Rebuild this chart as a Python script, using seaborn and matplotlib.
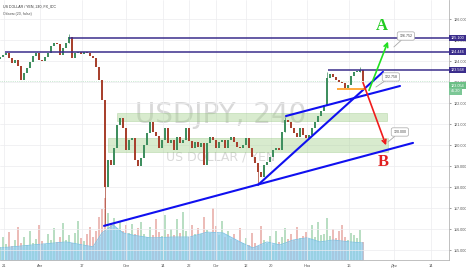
import numpy as np
import pandas as pd
import matplotlib
matplotlib.use("Agg")
import matplotlib.pyplot as plt
import matplotlib.transforms as mtransforms
from matplotlib.patches import Rectangle
import seaborn as sns

# ---------------- data ----------------
closes = [124.19, 124.29, 124.38, 124.14, 123.90, 124.05, 123.76, 123.10, 123.43, 123.67,
          123.95, 124.24, 124.38, 124.05, 124.00, 124.19, 124.38, 124.71, 124.86, 124.81,
          124.29, 124.62, 124.86, 125.14, 124.14, 124.38, 124.43, 124.33, 124.43, 124.38,
          124.24, 124.14, 123.71, 123.10, 122.14, 118.00, 119.29, 119.05, 119.86, 120.95,
          121.29, 120.81, 119.76, 120.24, 120.33, 119.29, 119.00, 119.38, 120.00, 120.57,
          121.10, 120.62, 120.43, 119.86, 120.24, 120.81, 120.10, 120.24, 119.76, 120.38,
          120.10, 120.24, 120.81, 120.19, 119.86, 120.14, 119.90, 120.10, 119.05, 120.10,
          120.38, 120.24, 119.86, 120.14, 120.24, 119.86, 120.24, 120.38, 120.14, 119.90,
          119.86, 120.00, 120.33, 119.86, 119.43, 119.14, 118.71, 118.48, 119.05, 119.19,
          119.43, 119.76, 119.86, 119.76, 120.62, 121.19, 121.10, 120.81, 120.57, 120.38,
          120.81, 120.48, 120.33, 120.48, 120.81, 121.10, 121.38, 121.62, 121.90, 123.19,
          123.38, 123.24, 123.10, 123.00, 122.95, 122.71, 122.86, 123.29, 123.48, 123.48,
          123.57, 123.05]
first_open = 124.10
wick_idx = [23, 35, 86, 95, 109, 120]
wick_low = [124.86, 116.15, 118.19, 120.62, 121.90, 123.48]
wick_high = [125.30, 122.14, 119.14, 121.33, 123.48, 123.70]

volumes = [35, 60, 42, 75, 38, 52, 88, 46, 62, 40, 78, 44, 57, 92, 50, 42, 68, 54, 84, 47,
           60, 98, 52, 66, 46, 72, 104, 58, 50, 70, 88, 62, 78, 115,
           135, 165, 125, 98, 112, 86, 104, 78, 92, 72,
           96, 68, 84, 102, 70, 62, 88, 66, 110, 74,
           64, 120, 70, 82, 66, 108, 72, 128, 76, 60,
           94, 70, 86, 68, 115, 80, 72, 138, 90, 66,
           104, 62, 78, 56, 70, 50, 86, 44, 58, 40,
           72, 46, 38, 90, 52, 44, 64, 40, 78, 48,
           60, 84, 56, 70, 52, 88, 58, 64, 74, 56,
           92, 60, 101, 66, 70, 112, 64, 82, 58, 76,
           93, 62, 54, 72, 66, 58, 80, 48]
ma_idx = [0, 11, 22, 31, 34, 37.7, 41, 44.3, 50, 52.3, 57.7, 63.3, 69, 74.3, 80, 84.3,
          89, 93.3, 97.7, 102.3, 106.7, 111, 116.7, 121]
ma_vals = [32, 40, 48, 35, 72, 93, 72, 66, 59, 59, 61, 61, 74, 72, 48, 32,
           48, 40, 53, 59, 48, 53, 48, 45.2]

x_tick_pos = [1.3, 13.3, 27.3, 42, 54.3, 63, 72, 82, 90.3, 102.3, 116.3, 131.3, 143.7]
x_tick_lab = ["21", "Авг", "17", "Сен", "14", "22", "Окт", "12", "20", "Ноя", "16", "Дек", "14"]
y_ticks = [115, 116, 117, 118, 119, 120, 121, 122, 123, 124, 125, 126]

# horizontal levels: (price, start index)
levels = [125.100, 124.446, 123.568]
level_start = [23, 1.7, 109.3]
# support zones: (x0, x1, p0, p1)
zone_x0 = [39, 36]
zone_x1 = [129, 129.33]
zone_lo = [121.14, 119.67]
zone_hi = [121.52, 120.33]
# trend lines
trend_x = [(34.67, 137.67), (86.0, 127.67), (95.33, 133.33)]
trend_y = [(116.15, 120.10), (118.10, 123.48), (121.38, 122.81)]
orange_x = (112.3, 121.7)
orange_y = 122.67
# arrows
arrow_a = ((122.67, 122.48), (129.67, 125.05))
arrow_b = ((120.67, 123.10), (129.0, 119.86))
# callouts
callout_text = ["126.752", "122.758", "120.000"]
callout_box = [(135.3, 125.19), (130.3, 123.24), (133.3, 120.62)]
callout_ptr = [(131.3, 124.67), (125.3, 122.76), (129.3, 120.14)]
last_price = 123.054
vol_ma_last = "45.20"

# ---------------- figure ----------------
sns.set_theme(style="white")
plt.rcParams['font.family'] = ['Liberation Sans', 'DejaVu Sans']

W, H = 466, 275
fig = plt.figure(figsize=(W / 100, H / 100), dpi=100)
rect = [0, 15 / H, 449 / W, 260 / H]
ax = fig.add_axes(rect)
axv = ax.twinx()
ax.set_zorder(axv.get_zorder() + 1)
ax.patch.set_visible(False)
axv.patch.set_facecolor("white")

XMAX = 449 / 3.0
ax.set_xlim(0, XMAX)
ax.set_ylim(114.524, 126.905)
axv.set_ylim(0, 690)

# volume
opens = [first_open] + closes[:-1]
idx = np.arange(len(closes))
up = np.array(closes) >= np.array(opens)
vcol = np.where(up, "#b9dec3", "#ecbcb8")
axv.bar(idx, volumes, width=0.6, color=vcol, linewidth=0, zorder=1)
ma_df = pd.DataFrame({"i": ma_idx, "v": ma_vals})
axv.fill_between(ma_df["i"], 0, ma_df["v"], color="#8fcdee", alpha=0.75, linewidth=0, zorder=2)
sns.lineplot(data=ma_df, x="i", y="v", ax=axv, color="#7cc2e6", linewidth=0.6, zorder=3)
axv.set_yticks([])
axv.set_ylabel("")
for s in axv.spines.values():
    s.set_visible(False)

# grid
ax.set_yticks(y_ticks)
ax.set_yticklabels([f"{v:.3f}" for v in y_ticks])
ax.set_xticks(x_tick_pos)
ax.set_xticklabels(x_tick_lab)
ax.grid(True, color="#ececef", linewidth=0.5, zorder=0)
ax.yaxis.tick_right()
ax.tick_params(axis="y", labelsize=2.7, colors="#555555", length=1.5, width=0.4, pad=1.5)
ax.tick_params(axis="x", labelsize=2.9, colors="#555555", length=0, pad=3)
ax.set_xlabel("")
ax.set_ylabel("")
for k in ["top", "left"]:
    ax.spines[k].set_visible(False)
for k in ["bottom", "right"]:
    ax.spines[k].set_color("#b5b5b5")
    ax.spines[k].set_linewidth(0.6)

# watermark
ax.text(73.7, 121.05, "USDJPY, 240", fontsize=20, color="#d9d9d9", ha="center",
        va="baseline", family="DejaVu Sans", zorder=0.5)
ax.text(73.7, 119.24, "US DOLLAR / YEN", fontsize=9, color="#d9d9d9", ha="center",
        va="baseline", family="DejaVu Sans", zorder=0.5)

# zones
for x0, x1, lo, hi in zip(zone_x0, zone_x1, zone_lo, zone_hi):
    ax.add_patch(Rectangle((x0, lo), x1 - x0, hi - lo, facecolor="#a9d394", alpha=0.45,
                           edgecolor="#8dbf79", linewidth=0.5, zorder=1))

# candles
for i, (o, c) in enumerate(zip(opens, closes)):
    col = "#3f8f5f" if c >= o else "#a8412e"
    lo, hi = min(o, c), max(o, c)
    if i in wick_idx:
        k = wick_idx.index(i)
        ax.vlines(i, wick_low[k], wick_high[k], color=col, linewidth=0.5, zorder=3)
    ax.bar(i, max(hi - lo, 0.03), bottom=lo, width=0.5, color=col, linewidth=0, zorder=3)

# horizontal levels
for p, s in zip(levels, level_start):
    ax.hlines(p, s, XMAX, color="#3b2d8c", linewidth=1.1, zorder=4)

# current price line
ax.axhline(last_price, color="#9fd6ae", linewidth=0.5, linestyle=":", zorder=2)

# trend lines
for tx, ty in zip(trend_x, trend_y):
    ax.plot(tx, ty, color="#1010f0", linewidth=1.5, solid_capstyle="round", zorder=5)
ax.hlines(orange_y, orange_x[0], orange_x[1], color="#ff9a1a", linewidth=1.2, zorder=5)

# arrows
ax.annotate("", xy=arrow_a[1], xytext=arrow_a[0],
            arrowprops=dict(arrowstyle="->", color="#22e022", lw=1.2, mutation_scale=7), zorder=6)
ax.annotate("", xy=arrow_b[1], xytext=arrow_b[0],
            arrowprops=dict(arrowstyle="->", color="#f01c1c", lw=1.2, mutation_scale=7), zorder=6)
ax.text(127.3, 125.67, "A", color="#22cc22", fontsize=12, fontweight="bold",
        family="Liberation Serif", ha="center", va="center", zorder=6)
ax.text(127.7, 119.21, "B", color="#e02020", fontsize=12, fontweight="bold",
        family="Liberation Serif", ha="center", va="center", zorder=6)

# callouts
for t, b, p in zip(callout_text, callout_box, callout_ptr):
    ax.annotate(t, xy=p, xytext=b, fontsize=2.6, color="#444444", ha="center", va="center",
                bbox=dict(boxstyle="round,pad=0.6,rounding_size=0.5", fc="white", ec="#a8a8a8", lw=0.5),
                arrowprops=dict(arrowstyle="-", color="#a8a8a8", lw=0.6, shrinkA=0, shrinkB=0),
                zorder=7)

# right axis boxes
trans = mtransforms.blended_transform_factory(ax.transAxes, ax.transData)
for p in levels:
    ax.text(1.004, p, f"{p:.3f}", transform=trans, fontsize=2.7, color="white", ha="left",
            va="center", clip_on=False, zorder=8,
            bbox=dict(boxstyle="square,pad=0.35", fc="#3b2d8c", ec="none"))
ax.text(1.004, 122.83, f"{last_price:.3f}", transform=trans, fontsize=2.7, color="white",
        ha="left", va="center", clip_on=False, zorder=8,
        bbox=dict(boxstyle="square,pad=0.35", fc="#6cbf86", ec="none"))
ax.text(1.004, 122.55, vol_ma_last, transform=trans, fontsize=2.7, color="white",
        ha="left", va="center", clip_on=False, zorder=8,
        bbox=dict(boxstyle="square,pad=0.35", fc="#7cc796", ec="none"))

# header
fig.text(3 / W, 1 - 6.5 / H, "US DOLLAR / YEN, 240, FX_IDC", fontsize=2.6, color="#333333",
         ha="left", va="center")
fig.text(3 / W, 1 - 14 / H, "Объем (20, false)", fontsize=2.6, color="#555555",
         ha="left", va="center")

fig.savefig("out.png", dpi=100, facecolor="white")
